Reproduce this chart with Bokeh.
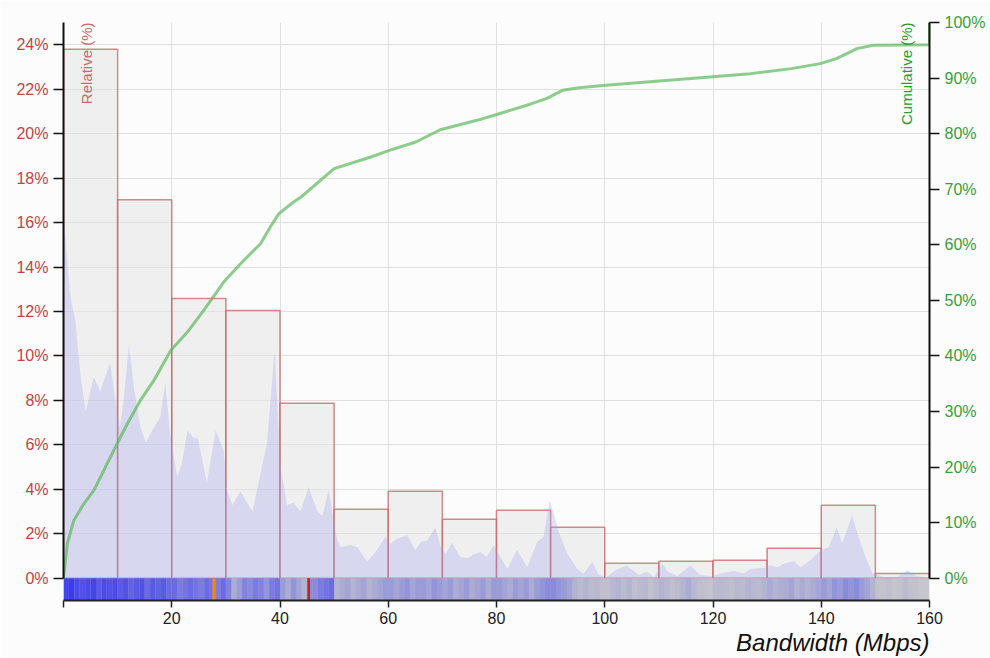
from math import pi
from bokeh.plotting import figure
from bokeh.models import Range1d, LinearAxis, FixedTicker, Label, ColumnDataSource, Title
from bokeh.embed import file_html
from bokeh.resources import INLINE

# ---------------- data ----------------
bin_left = [0, 10, 20, 30, 40, 50, 60, 70, 80, 90, 100, 110, 120, 130, 140, 150]
bin_right = [10, 20, 30, 40, 50, 60, 70, 80, 90, 100, 110, 120, 130, 140, 150, 160]
relative_pct = [23.8, 17.03, 12.58, 12.04, 7.87, 3.10, 3.91, 2.65, 3.06, 2.29,
                0.67, 0.76, 0.81, 1.35, 3.28, 0.22]

density_x = [0, 0.6, 1.3, 2.2, 3.1, 4.1, 5.6, 6.8, 8.6, 9.6, 10.4, 11.1, 12.1, 13.0,
             14.2, 15.2, 16.4, 17.9, 18.8, 19.7, 21.0, 21.9, 22.9, 24.1, 24.8, 26.5,
             28.1, 29.6, 30.2, 31.2, 32.7, 34.9, 36.4, 37.6, 39.0, 40.1, 41.3, 42.5,
             43.8, 45.3, 46.9, 47.8, 49.0, 49.9, 50.6, 51.2, 53.0, 54.3, 56.1, 57.9,
             59.5, 60.4, 61.7, 63.5, 65.0, 66.0, 67.2, 68.7, 69.7, 70.6, 71.8, 73.3,
             74.6, 75.5, 77.0, 78.2, 79.5, 80.7, 82.0, 83.8, 85.7, 87.5, 88.7, 89.8,
             90.6, 91.5, 93.1, 94.9, 96.1, 97.7, 98.9, 100.4, 102.0, 104.1, 106.3,
             107.8, 109.1, 110.6, 111.6, 113.4, 115.8, 117.6, 119.8, 121.9, 123.8,
             125.7, 126.9, 129.4, 130.6, 131.9, 133.2, 134.9, 136.2, 138.0, 139.9,
             141.4, 142.8, 143.9, 145.7, 146.9, 148.2, 149.4, 151.5, 154.0, 155.9,
             157.7, 159.6, 160.0]
density_pct = [16.3, 14.5, 12.6, 11.6, 9.2, 7.5, 9.05, 8.4, 9.7, 8.0, 6.8, 8.0, 10.5, 8.6,
               6.8, 6.1, 6.65, 7.25, 8.8, 6.5, 4.55, 5.2, 6.65, 6.3, 6.3, 4.3,
               6.65, 5.75, 3.95, 3.3, 3.9, 3.0, 4.7, 6.05, 10.25, 5.0, 3.3, 3.4,
               3.0, 4.1, 3.0, 2.8, 3.95, 2.6, 1.7, 1.4, 1.5, 1.4, 0.73, 1.26,
               1.86, 1.56, 1.78, 1.93, 1.26, 1.63, 1.7, 2.3, 1.4, 1.1, 1.6, 0.96,
               0.9, 1.03, 1.18, 0.96, 1.48, 0.96, 0.43, 1.26, 0.5, 1.63, 1.86, 3.5,
               2.9, 2.08, 1.1, 0.43, 0.2, 0.73, 0.15, 0.06, 0.36, 0.58, 0.15,
               0.3, 0.05, 0.66, 0.3, 0.1, 0.58, 0.15, 0.1, 0.24, 0.33,
               0.2, 0.43, 0.46, 0.58, 0.5, 0.66, 0.76, 0.5, 0.81, 1.26,
               1.4, 2.3, 1.56, 2.83, 1.86, 0.96, 0.24, 0.06, 0.06, 0.36,
               0.1, 0.02, 0.0]

cum_x = [0, 0.7, 1.9, 3.75, 5.6, 7.45, 9.9, 11.8, 14.2, 16.7, 19.8, 22.9, 25.9, 29.6,
         32.7, 36.4, 38.2, 39.8, 42.5, 43.9, 50.0, 56.8, 60.2, 65.1, 69.6, 76.4, 80.2,
         86.2, 89.2, 92.2, 95.2, 100.2, 119.4, 126.9, 134.5, 139.8, 142.8, 146.6,
         149.6, 160.0, 160.0]
cum_pct = [0, 6.2, 10.4, 13.4, 15.8, 19.4, 24.2, 27.8, 32.0, 35.6, 41.0, 44.3, 48.2, 53.3,
           56.6, 60.2, 63.2, 65.6, 67.7, 68.6, 73.7, 75.8, 77.0, 78.5, 80.7, 82.4, 83.5,
           85.3, 86.3, 87.8, 88.25, 88.7, 90.2, 90.8, 91.7, 92.6, 93.5, 95.3,
           95.9, 96.0, 100.0]

# rug strip: observation intensity per 1 Mbps slot (0..159)
rug_intensity = [
    0.85, 0.9, 0.8, 0.75, 0.8, 0.85, 0.7, 0.8, 0.75, 0.8,
    0.7, 0.75, 0.65, 0.7, 0.75, 0.6, 0.7, 0.65, 0.7, 0.6,
    0.6, 0.5, 0.55, 0.6, 0.55, 0.5, 0.6, 0.55, 0.5, 0.6,
    0.45, 0.2, 0.3, 0.45, 0.4, 0.5, 0.45, 0.35, 0.5, 0.55,
    0.3, 0.2, 0.35, 0.25, 0.15, 0.4, 0.4, 0.5, 0.55, 0.6,
    0.15, 0.2, 0.25, 0.15, 0.2, 0.25, 0.15, 0.2, 0.25, 0.3,
    0.3, 0.25, 0.3, 0.35, 0.25, 0.3, 0.3, 0.25, 0.35, 0.3,
    0.25, 0.3, 0.2, 0.25, 0.3, 0.2, 0.25, 0.3, 0.2, 0.3,
    0.3, 0.25, 0.2, 0.3, 0.25, 0.3, 0.2, 0.3, 0.35, 0.4,
    0.4, 0.35, 0.3, 0.25, 0.15, 0.1, 0.15, 0.1, 0.12, 0.08,
    0.08, 0.12, 0.15, 0.1, 0.15, 0.08, 0.1, 0.12, 0.06, 0.1,
    0.15, 0.12, 0.08, 0.1, 0.15, 0.2, 0.12, 0.08, 0.06, 0.05,
    0.1, 0.12, 0.1, 0.08, 0.12, 0.1, 0.15, 0.12, 0.1, 0.15,
    0.2, 0.15, 0.18, 0.2, 0.25, 0.15, 0.2, 0.15, 0.2, 0.25,
    0.3, 0.25, 0.35, 0.3, 0.4, 0.35, 0.4, 0.3, 0.25, 0.15,
    0.05, 0.05, 0.08, 0.04, 0.05, 0.1, 0.06, 0.05, 0.04, 0.03,
]
rug_left = list(range(160))
rug_right = [v + 1 for v in rug_left]
median_bw = 27.8
mean_bw = 45.3

x_ticks = [0, 20, 40, 60, 80, 100, 120, 140, 160]
rel_ticks = [0, 2, 4, 6, 8, 10, 12, 14, 16, 18, 20, 22, 24]
cum_ticks = [0, 10, 20, 30, 40, 50, 60, 70, 80, 90, 100]

FONT = "Liberation Sans"

# ---------------- figure ----------------
p = figure(width=990, height=658, output_backend="svg", toolbar_location=None,
           x_range=Range1d(0, 160), y_range=Range1d(-1, 25),
           min_border_left=63, min_border_right=61, min_border_top=22,
           min_border_bottom=58,
           background_fill_color="#fcfcfc", border_fill_color="#fcfcfc")
p.outline_line_color = None
p.extra_y_ranges = {"cum": Range1d(-4, 100)}

# grid
p.xgrid.ticker = FixedTicker(ticks=[20, 40, 60, 80, 100, 120, 140])
p.ygrid.ticker = FixedTicker(ticks=rel_ticks[1:])
p.grid.grid_line_color = "#e0e0e0"
p.grid.grid_line_width = 1

# bars
p.quad(left=bin_left, right=bin_right, bottom=0, top=relative_pct,
       fill_color="#e4e4e4", fill_alpha=0.55,
       line_color="#c46464", line_alpha=0.75, line_width=1.5)

# density area
p.varea(x=density_x, y1=[0] * len(density_x), y2=density_pct,
        fill_color="#a0a0f0", fill_alpha=0.3)

# rug strip
p.quad(left=[0], right=[160], bottom=[-1], top=[0], fill_color="#cccccc", line_color=None)
rug_src = ColumnDataSource(dict(left=rug_left, right=rug_right, a=rug_intensity))
p.quad(left="left", right="right", bottom=-1, top=0, source=rug_src,
       fill_color="#2a2af5", fill_alpha="a", line_color=None)
p.segment(x0=[median_bw], x1=[median_bw], y0=[-1], y1=[0], line_color="#ff8800", line_width=3)
p.segment(x0=[mean_bw], x1=[mean_bw], y0=[-1], y1=[0], line_color="#c42020", line_width=2.5)

# cumulative line
p.line(cum_x, cum_pct, y_range_name="cum", line_color="#5cb85c", line_alpha=0.7,
       line_width=3, line_join="round")

# axes
ax = p.xaxis[0]
ax.ticker = FixedTicker(ticks=x_ticks)
ax.major_label_overrides = {0: ""}
ax.axis_line_width = 2
ax.axis_line_color = "#222222"
ax.major_tick_line_color = "#222222"
ax.major_tick_line_width = 1.5
ax.major_tick_out = 7
ax.major_tick_in = 0
ax.minor_tick_line_color = None
ax.major_label_standoff = 4
ax.major_label_text_font = FONT
ax.major_label_text_font_size = "16px"
ax.major_label_text_color = "#222222"

ly = p.yaxis[0]
ly.ticker = FixedTicker(ticks=rel_ticks)
ly.major_label_overrides = {t: f"{t}%" for t in rel_ticks}
ly.bounds = (0, 25)
ly.axis_line_width = 2
ly.axis_line_color = "#111111"
ly.major_tick_line_color = "#111111"
ly.major_tick_line_width = 1.5
ly.major_tick_out = 10
ly.major_tick_in = 0
ly.minor_tick_line_color = None
ly.major_label_standoff = 5
ly.major_label_text_font = FONT
ly.major_label_text_font_size = "16px"
ly.major_label_text_color = "#c24444"

ry = LinearAxis(y_range_name="cum")
ry.ticker = FixedTicker(ticks=cum_ticks)
ry.major_label_overrides = {t: f"{t}%" for t in cum_ticks}
ry.bounds = (0, 100)
ry.axis_line_width = 2
ry.axis_line_color = "#111111"
ry.major_tick_line_color = "#111111"
ry.major_tick_line_width = 1.5
ry.major_tick_out = 10
ry.major_tick_in = 0
ry.minor_tick_line_color = None
ry.major_label_standoff = 5
ry.major_label_text_font = FONT
ry.major_label_text_font_size = "16px"
ry.major_label_text_color = "#36a036"
p.add_layout(ry, "right")

# in-plot axis titles
p.add_layout(Label(x=0, y=25, x_offset=14, text="Relative (%)", angle=pi / 2,
                   text_align="right", text_baseline="top", text_color="#cc6a6a",
                   text_font=FONT, text_font_size="15px"))
p.add_layout(Label(x=160, y=25, x_offset=-32, text="Cumulative (%)", angle=pi / 2,
                   text_align="right", text_baseline="top", text_color="#2f9a2f",
                   text_font=FONT, text_font_size="15px"))

xt = Title(text="Bandwidth (Mbps)", align="right", text_color="#111111",
           text_font=FONT, text_font_style="italic", text_font_size="24px",
           standoff=0, offset=0)
p.add_layout(xt, "below")

open("out.html", "w").write(file_html(p, INLINE))
